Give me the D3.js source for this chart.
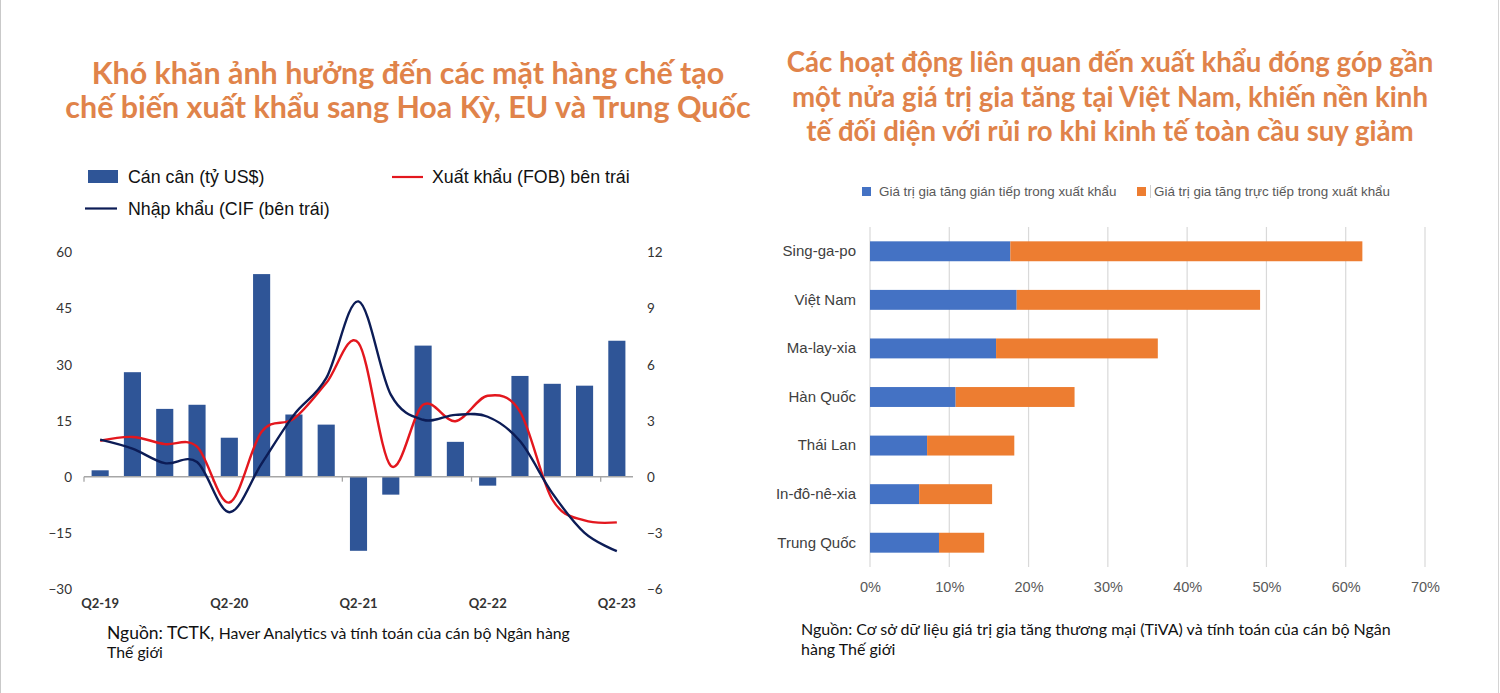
<!DOCTYPE html>
<html>
<head>
<meta charset="utf-8">
<script src="https://cdn.jsdelivr.net/npm/d3@7"></script>
<style>
  html, body { margin: 0; padding: 0; background: #fff; }
  svg { display: block; }
</style>
</head>
<body>
<svg id="chart" width="1500" height="693"></svg>
<script>
// ---------- Left chart data ----------
const quarters = ["Q2-19","Q3-19","Q4-19","Q1-20","Q2-20","Q3-20","Q4-20","Q1-21","Q2-21","Q3-21","Q4-21","Q1-22","Q2-22","Q3-22","Q4-22","Q1-23","Q2-23"];
const quarterLabels = ["Q2-19","Q2-20","Q2-21","Q2-22","Q2-23"];
// Trade balance, billion US$ (right axis)
const balance = [0.34, 5.58, 3.62, 3.84, 2.08, 10.82, 3.32, 2.78, -3.96, -0.96, 7.0, 1.86, -0.48, 5.38, 4.96, 4.86, 7.26];
// Export growth FOB, % (left axis)
const exportsFOB = [9.6, 10.6, 8.7, 8.0, -6.9, 12.0, 15.5, 25.0, 35.7, 2.9, 19.2, 14.8, 21.6, 17.4, -6.1, -11.7, -12.2];
// Import growth CIF, % (left axis)
const importsCIF = [9.9, 7.5, 3.6, 3.9, -9.5, 3.5, 16.5, 26.3, 46.8, 21.9, 15.2, 16.5, 16.0, 9.5, -4.4, -15.0, -19.9];
const leftTicks = [-30, -15, 0, 15, 30, 45, 60];
const rightTicks = [-6, -3, 0, 3, 6, 9, 12];
const leftTitle = ["Khó khăn ảnh hưởng đến các mặt hàng chế tạo", "chế biến xuất khẩu sang Hoa Kỳ, EU và Trung Quốc"];
const leftLegend = ["Cán cân (tỷ US$)", "Xuất khẩu (FOB) bên trái", "Nhập khẩu (CIF (bên trái)"];

// ---------- Right chart data ----------
const countries = ["Sing-ga-po","Việt Nam","Ma-lay-xia","Hàn Quốc","Thái Lan","In-đô-nê-xia","Trung Quốc"];
const indirectVA = [17.7, 18.5, 15.9, 10.8, 7.2, 6.2, 8.7];
const directVA = [44.4, 30.7, 20.4, 15.0, 11.0, 9.2, 5.7];
const pctTicks = [0, 10, 20, 30, 40, 50, 60, 70];
const rightTitle = ["Các hoạt động liên quan đến xuất khẩu đóng góp gần", "một nửa giá trị gia tăng tại Việt Nam, khiến nền kinh", "tế đối diện với rủi ro khi kinh tế toàn cầu suy giảm"];
const rightLegend = ["Giá trị gia tăng gián tiếp trong xuất khẩu", "Giá trị gia tăng trực tiếp trong xuất khẩu"];

const ORANGE_TITLE = "#E0834A";
const BAR_BLUE = "#2F5597";
const RED = "#E3171E";
const NAVY = "#0C1C56";
const VA_BLUE = "#4472C4";
const VA_ORANGE = "#ED7D31";

const svg = d3.select("#chart");
svg.append("rect").attr("width", 1500).attr("height", 693).attr("fill", "#fff");
// thin frame edges
svg.append("line").attr("x1", 0.5).attr("x2", 0.5).attr("y1", 0).attr("y2", 693).attr("stroke", "#c9c9c9");
svg.append("line").attr("x1", 1498.5).attr("x2", 1498.5).attr("y1", 0).attr("y2", 693).attr("stroke", "#d4d4d4");

function fitLines(lines, cx, baselines, targetWidths, family, weight, color) {
  const nodes = lines.map((t, i) => svg.append("text")
    .attr("x", cx).attr("y", baselines[i])
    .attr("text-anchor", "middle")
    .style("font-family", family).style("font-weight", weight)
    .style("font-size", "28px").attr("fill", color).text(t));
  let ratio = 0;
  nodes.forEach((n, i) => { ratio += targetWidths[i] / n.node().getComputedTextLength(); });
  ratio /= nodes.length;
  nodes.forEach(n => n.style("font-size", (28 * ratio) + "px"));
}

// ---------- Titles ----------
fitLines(leftTitle, 408, [84, 118], [638, 680], "Lato, 'Open Sans', sans-serif", 700, ORANGE_TITLE);
fitLines(rightTitle, 1110, [72, 107, 141], [646, 635, 609], "Lato, 'Open Sans', sans-serif", 700, ORANGE_TITLE);

// ---------- Left chart ----------
const x = d3.scaleBand().domain(quarters).range([84, 633]).paddingInner(0.47).paddingOuter(0.235);
const yL = d3.scaleLinear().domain([-30, 60]).range([589, 252]);
const yR = d3.scaleLinear().domain([-6, 12]).range([589, 252]);
const gL = svg.append("g");

// legend
const LEG_FONT = "'Liberation Sans', Arial, sans-serif";
gL.append("rect").attr("x", 88).attr("y", 170).attr("width", 30).attr("height", 13).attr("fill", BAR_BLUE);
gL.append("text").attr("x", 128).attr("y", 183).text(leftLegend[0]);
gL.append("line").attr("x1", 392).attr("x2", 423).attr("y1", 177).attr("y2", 177).attr("stroke", RED).attr("stroke-width", 2.2);
gL.append("text").attr("x", 432).attr("y", 183).text(leftLegend[1]);
gL.append("line").attr("x1", 85).attr("x2", 117).attr("y1", 208.5).attr("y2", 208.5).attr("stroke", NAVY).attr("stroke-width", 2.2);
gL.append("text").attr("x", 128).attr("y", 215).text(leftLegend[2]);
gL.selectAll("text").style("font-family", LEG_FONT).style("font-size", "17.8px").attr("fill", "#111");

// bars
gL.selectAll("rect.bar").data(quarters).enter().append("rect").attr("class", "bar")
  .attr("x", d => x(d))
  .attr("width", x.bandwidth())
  .attr("y", (d, i) => yR(Math.max(0, balance[i])))
  .attr("height", (d, i) => Math.abs(yR(balance[i]) - yR(0)))
  .attr("fill", BAR_BLUE);

// zero axis line with ticks
const step = x.step();
const edge = (step - x.bandwidth()) / 2;
gL.append("line").attr("x1", 84).attr("x2", 633).attr("y1", yL(0)).attr("y2", yL(0)).attr("stroke", "#a6a6a6").attr("stroke-width", 1.5);
[0, 4, 8, 12, 16].forEach(i => {
  const tx = x(quarters[i]) - edge;
  gL.append("line").attr("x1", tx).attr("x2", tx).attr("y1", yL(0)).attr("y2", yL(0) + 5).attr("stroke", "#a6a6a6").attr("stroke-width", 1.3);
});

// lines
const cx = i => x(quarters[i]) + x.bandwidth() / 2;
const lineGen = d3.line().x((d, i) => cx(i)).y(d => yL(d)).curve(d3.curveCardinal.tension(0));
gL.append("path").attr("d", lineGen(exportsFOB)).attr("fill", "none").attr("stroke", RED).attr("stroke-width", 2.4);
gL.append("path").attr("d", lineGen(importsCIF)).attr("fill", "none").attr("stroke", NAVY).attr("stroke-width", 2.4);

// axes
const AX_FONT = "Lato, 'Open Sans', sans-serif";
const axL = gL.append("g").attr("transform", "translate(72,0)")
  .call(d3.axisLeft(yL).tickValues(leftTicks).tickSize(0).tickPadding(0));
const axR = gL.append("g").attr("transform", "translate(647,0)")
  .call(d3.axisRight(yR).tickValues(rightTicks).tickSize(0).tickPadding(0));
const axB = gL.append("g").attr("transform", "translate(0,598)")
  .call(d3.axisBottom(x).tickValues(quarterLabels).tickSize(0).tickPadding(0));
[axL, axR, axB].forEach(a => {
  a.select(".domain").remove();
  a.selectAll("text").style("font-family", AX_FONT).style("font-size", "13.5px").attr("fill", "#333");
});
axL.selectAll("text").attr("dy", "0.35em");
axR.selectAll("text").attr("dy", "0.35em");
axB.selectAll("text").attr("dy", "0.8em").style("font-weight", 700).style("font-size", "13px");

// source left
const srcL = svg.append("text").attr("x", 107).attr("y", 639)
  .style("font-family", "Lato, 'Open Sans', sans-serif").attr("fill", "#111");
srcL.append("tspan").style("font-size", "17.5px").text("Nguồn: TCTK, ");
srcL.append("tspan").style("font-size", "15.8px").text("Haver Analytics và tính toán của cán bộ Ngân hàng");
svg.append("text").attr("x", 107).attr("y", 658)
  .style("font-family", "Lato, 'Open Sans', sans-serif").style("font-size", "15.8px").attr("fill", "#111").text("Thế giới");

// ---------- Right chart ----------
const xp = d3.scaleLinear().domain([0, 70]).range([870, 1425]);
const yb = d3.scaleBand().domain(countries).range([227, 567]).paddingInner(0.59).paddingOuter(0.295);
const gR = svg.append("g");

// gridlines
gR.selectAll("line.grid").data(pctTicks).enter().append("line").attr("class", "grid")
  .attr("x1", d => xp(d)).attr("x2", d => xp(d)).attr("y1", 227).attr("y2", 567)
  .attr("stroke", "#d9d9d9").attr("stroke-width", 1.2);

// bars
gR.selectAll("rect.ind").data(countries).enter().append("rect").attr("class", "ind")
  .attr("x", xp(0)).attr("y", d => yb(d)).attr("height", yb.bandwidth())
  .attr("width", (d, i) => xp(indirectVA[i]) - xp(0)).attr("fill", VA_BLUE);
gR.selectAll("rect.dir").data(countries).enter().append("rect").attr("class", "dir")
  .attr("x", (d, i) => xp(indirectVA[i])).attr("y", d => yb(d)).attr("height", yb.bandwidth())
  .attr("width", (d, i) => xp(indirectVA[i] + directVA[i]) - xp(indirectVA[i])).attr("fill", VA_ORANGE);

// axes
const RF = "'Liberation Sans', Arial, sans-serif";
const axY = gR.append("g").attr("transform", "translate(856,0)")
  .call(d3.axisLeft(yb).tickSize(0).tickPadding(0));
axY.select(".domain").remove();
axY.selectAll("text").style("font-family", RF).style("font-size", "15px").attr("fill", "#404040");
const axX = gR.append("g").attr("transform", "translate(0,582)")
  .call(d3.axisBottom(xp).tickValues(pctTicks).tickFormat(d => d + "%").tickSize(0).tickPadding(0));
axX.select(".domain").remove();
axX.selectAll("text").attr("dy", "0.71em").style("font-family", RF).style("font-size", "14.5px").attr("fill", "#595959");

// legend
gR.append("rect").attr("x", 862).attr("y", 187).attr("width", 9).attr("height", 9).attr("fill", VA_BLUE);
gR.append("text").attr("x", 879).attr("y", 196).text(rightLegend[0]);
gR.append("rect").attr("x", 1137).attr("y", 187).attr("width", 9).attr("height", 9).attr("fill", VA_ORANGE);
gR.append("line").attr("x1", 1150.5).attr("x2", 1150.5).attr("y1", 185).attr("y2", 198).attr("stroke", "#d0d0d0");
gR.append("text").attr("x", 1154).attr("y", 196).text(rightLegend[1]);
gR.selectAll("text").filter(function() { return !this.closest(".tick"); })
  .style("font-family", RF).style("font-size", "13.4px").attr("fill", "#595959");

// source right
svg.append("text").attr("x", 801).attr("y", 635)
  .style("font-family", "Lato, 'Open Sans', sans-serif").style("font-size", "16px").attr("fill", "#111")
  .text("Nguồn: Cơ sở dữ liệu giá trị gia tăng thương mại (TiVA) và tính toán của cán bộ Ngân");
svg.append("text").attr("x", 801).attr("y", 655)
  .style("font-family", "Lato, 'Open Sans', sans-serif").style("font-size", "16px").attr("fill", "#111")
  .text("hàng Thế giới");
</script>
</body>
</html>
